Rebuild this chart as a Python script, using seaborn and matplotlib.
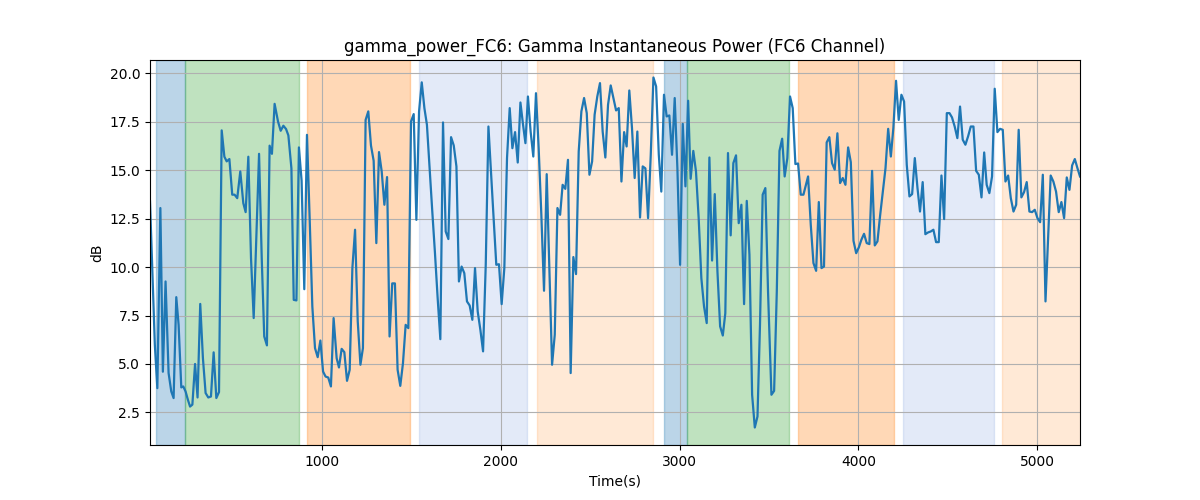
import matplotlib
matplotlib.use("Agg")
import matplotlib.pyplot as plt
import seaborn as sns
import pandas as pd

time_s = [38, 65, 79, 96, 110, 125, 142, 157, 170, 185, 198, 213, 224, 237, 250, 262, 275, 290, 304, 319,
          334, 349, 364, 379, 394, 409, 424, 439, 454, 467, 482, 498, 511, 526, 543, 560, 573, 588, 603, 618,
          648, 663, 677, 692, 707, 720, 735, 754, 769, 784, 799, 812, 829, 842, 857, 871, 886, 901, 916, 931,
          946, 961, 976, 991, 1006, 1020, 1035, 1050, 1065, 1082, 1095, 1110, 1125, 1140, 1155, 1170, 1185, 1200, 1215, 1229,
          1244, 1259, 1274, 1289, 1304, 1319, 1334, 1349, 1364, 1378, 1393, 1408, 1423, 1438, 1453, 1468, 1483, 1498, 1513, 1528,
          1543, 1558, 1573, 1587, 1602, 1617, 1632, 1647, 1662, 1677, 1692, 1707, 1722, 1737, 1752, 1766, 1781, 1796, 1811, 1826,
          1841, 1856, 1871, 1886, 1901, 1916, 1931, 1946, 1960, 1975, 1990, 2005, 2020, 2035, 2050, 2065, 2080, 2095, 2110, 2124,
          2138, 2152, 2167, 2182, 2197, 2212, 2227, 2242, 2257, 2272, 2287, 2302, 2317, 2332, 2346, 2361, 2376, 2391, 2406, 2421,
          2436, 2451, 2466, 2481, 2496, 2511, 2525, 2540, 2555, 2570, 2585, 2600, 2615, 2630, 2645, 2660, 2675, 2690, 2704, 2719,
          2734, 2749, 2764, 2779, 2794, 2809, 2824, 2839, 2854, 2869, 2884, 2898, 2913, 2928, 2943, 2958, 2973, 2988, 3003, 3018,
          3033, 3048, 3062, 3077, 3092, 3107, 3122, 3137, 3152, 3167, 3182, 3197, 3212, 3227, 3242, 3256, 3271, 3286, 3301, 3316,
          3331, 3346, 3361, 3376, 3391, 3406, 3421, 3436, 3450, 3465, 3480, 3495, 3514, 3529, 3544, 3559, 3574, 3588, 3603, 3618,
          3633, 3648, 3663, 3678, 3693, 3706, 3719, 3734, 3749, 3764, 3779, 3794, 3808, 3823, 3838, 3853, 3868, 3883, 3898, 3913,
          3928, 3943, 3958, 3973, 3988, 4003, 4017, 4032, 4047, 4062, 4077, 4092, 4107, 4122, 4137, 4152, 4167, 4182, 4196, 4211,
          4226, 4241, 4256, 4271, 4286, 4301, 4316, 4331, 4345, 4360, 4375, 4390, 4405, 4420, 4435, 4450, 4465, 4480, 4495, 4510,
          4524, 4539, 4554, 4569, 4584, 4599, 4614, 4629, 4644, 4659, 4674, 4689, 4704, 4718, 4733, 4748, 4763, 4778, 4793, 4808,
          4823, 4838, 4853, 4868, 4883, 4897, 4912, 4927, 4942, 4957, 4972, 4987, 5002, 5017, 5032, 5047, 5076, 5091, 5106, 5121,
          5136, 5151, 5166, 5181, 5196, 5211, 5226, 5240]

power_db = [13.4, 6.0, 3.75, 13.05, 4.6, 9.26, 4.53, 3.58, 3.24, 8.45, 7.02, 3.79, 3.84, 3.58, 3.15, 2.8, 2.9, 5.0, 3.27, 8.1,
            5.3, 3.5, 3.27, 3.32, 5.6, 3.24, 3.55, 17.06, 15.7, 15.46, 15.58, 13.74, 13.74, 13.56, 14.94, 13.3, 12.84, 15.7, 10.46, 7.37,
            15.85, 10.46, 6.42, 5.96, 16.27, 15.85, 18.43, 17.52, 17.04, 17.3, 17.13, 16.8, 15.1, 8.31, 8.28, 16.18, 14.46, 8.86, 16.83, 12.53,
            7.97, 5.82, 5.35, 6.21, 4.61, 4.35, 4.3, 3.84, 7.37, 5.3, 4.82, 5.78, 5.61, 4.13, 4.7, 9.95, 11.93, 7.2, 4.96, 5.82,
            17.6, 18.04, 16.28, 15.49, 11.24, 15.94, 14.94, 13.22, 14.65, 6.42, 9.16, 9.16, 4.7, 3.87, 5.04, 7.02, 6.85, 17.52, 17.9, 12.44,
            18.04, 19.54, 18.2, 17.35, 15.1, 12.87, 10.72, 8.4, 6.28, 17.47, 11.84, 11.45, 16.71, 16.28, 15.2, 9.26, 10.03, 9.69, 8.23, 8.02,
            7.28, 9.95, 7.71, 6.76, 5.65, 10.12, 17.26, 14.77, 12.53, 10.12, 10.15, 8.09, 9.95, 15.63, 18.21, 16.14, 16.97, 15.4, 18.5, 17.4,
            16.4, 18.81, 17.0, 15.71, 18.98, 16.14, 12.7, 8.78, 14.8, 9.78, 4.96, 6.51, 13.05, 12.7, 14.25, 14.04, 15.54, 4.53, 10.52, 9.64,
            15.97, 18.04, 18.73, 17.95, 14.77, 15.46, 17.87, 18.81, 19.5, 17.0, 15.66, 18.38, 19.38, 18.73, 18.09, 18.21, 14.42, 16.97, 16.23, 19.12,
            17.18, 14.6, 17.0, 12.56, 15.2, 15.1, 12.53, 15.8, 19.79, 19.33, 15.8, 13.9, 18.9, 17.78, 17.83, 15.8, 18.73, 15.1, 10.12, 17.4,
            14.17, 18.59, 14.56, 16.0, 14.94, 12.53, 9.43, 7.97, 7.11, 15.66, 10.34, 13.77, 9.78, 6.94, 6.47, 7.62, 15.89, 11.64, 15.37, 15.77,
            12.27, 13.22, 8.09, 13.42, 10.64, 3.41, 1.72, 2.29, 7.02, 13.74, 14.08, 8.74, 3.41, 3.61, 8.74, 16.0, 16.63, 14.68, 15.63, 18.81,
            18.21, 15.32, 15.35, 13.74, 13.74, 14.2, 14.68, 12.19, 10.21, 9.81, 13.36, 9.95, 10.03, 16.44, 16.71, 15.37, 15.03, 16.91, 14.34, 14.6,
            14.25, 16.18, 15.42, 11.36, 10.72, 11.02, 11.41, 11.72, 11.24, 11.19, 14.97, 11.12, 11.33, 12.67, 13.9, 15.1, 17.14, 15.71, 17.18, 19.62,
            17.6, 18.9, 18.55, 15.28, 13.65, 13.77, 15.63, 14.08, 12.87, 14.39, 11.7, 11.79, 11.84, 11.93, 11.29, 11.29, 14.73, 12.48, 17.95, 17.95,
            17.73, 17.26, 16.66, 18.29, 16.58, 16.32, 16.75, 17.26, 17.26, 14.97, 14.77, 13.6, 15.92, 14.25, 13.82, 14.68, 19.21, 16.97, 17.14, 17.09,
            14.42, 14.73, 13.56, 12.87, 13.22, 17.09, 13.6, 13.87, 14.39, 12.87, 12.84, 12.96, 12.53, 12.32, 14.77, 8.23, 14.73, 14.42, 13.9, 12.84,
            13.36, 12.53, 14.63, 13.99, 15.25, 15.58, 15.1, 14.68]

span_start = [71, 236, 915, 1543, 2203, 2913, 3044, 3660, 4250, 4804]
span_end = [234, 869, 1491, 2145, 2850, 3044, 3613, 4198, 4760, 5400]
span_color = ["tab:blue", "tab:green", "tab:orange", "#4878d0", "tab:orange",
              "tab:blue", "tab:green", "tab:orange", "#4878d0", "tab:orange"]
span_alpha = [0.3, 0.3, 0.3, 0.15, 0.17, 0.3, 0.3, 0.3, 0.15, 0.17]

df = pd.DataFrame({"Time(s)": time_s, "dB": power_db})

fig, ax = plt.subplots(figsize=(12, 5), dpi=100)
for s, e, c, a in zip(span_start, span_end, span_color, span_alpha):
    ax.axvspan(s, e, color=c, alpha=a)
sns.lineplot(data=df, x="Time(s)", y="dB", ax=ax, color="tab:blue", linewidth=1.6)
ax.set_xlim(time_s[0], time_s[-1])
ax.grid(True)
ax.set_title("gamma_power_FC6: Gamma Instantaneous Power (FC6 Channel)")
ax.set_xlabel("Time(s)")
ax.set_ylabel("dB")
fig.savefig("out.png", dpi=100)
